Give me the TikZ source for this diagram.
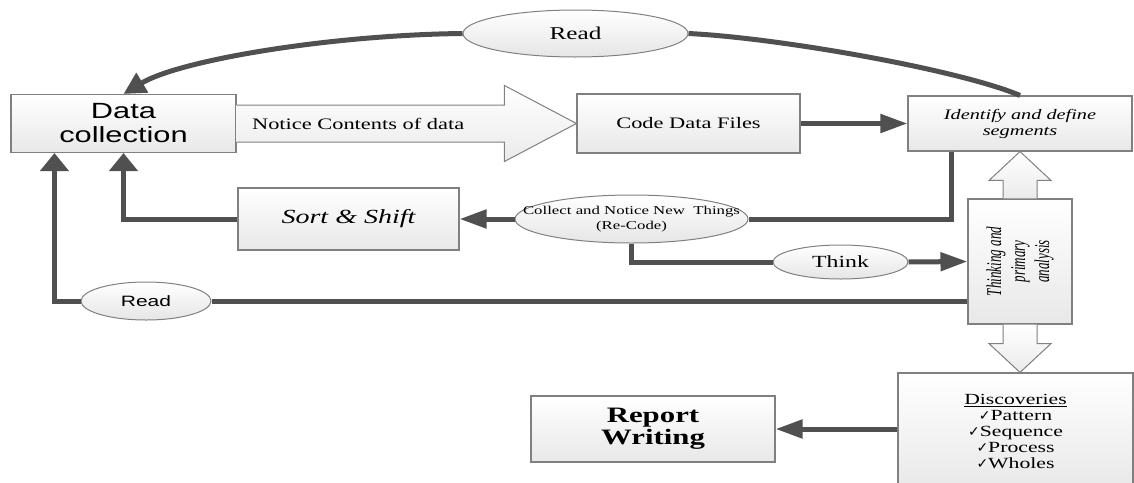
\documentclass[tikz,border=0pt]{standalone}
\usepackage{fontspec}
\setmainfont{Liberation Serif}[FakeStretch=1.4]
\newfontfamily\sansw{Liberation Sans}[FakeStretch=1.4]
\newfontfamily\serifc{Liberation Serif}[FakeStretch=0.62]
\newfontfamily\checkf{DejaVu Sans}
\usetikzlibrary{arrows.meta,shapes.geometric,calc}
\definecolor{linkgray}{HTML}{505050}
\definecolor{bord}{HTML}{808080}
\newcommand{\ckm}{{\checkf\fontsize{14}{16}\selectfont ✓}}
\tikzset{
 box/.style={draw=bord, line width=1.1pt, top color=white, bottom color=black!9, inner sep=0pt, align=center, text=black},
 oval/.style={ellipse, draw=bord, line width=1pt, top color=white, bottom color=black!10, inner sep=0pt, align=center},
 link/.style={draw=linkgray, line width=5pt},
 harr/.style={-{Triangle[length=27pt,width=18pt]}},
 varr/.style={-{Triangle[length=18pt,width=28pt]}},
 carr/.style={-{Triangle[length=22pt,width=22pt]}},
 block/.style={draw=bord, line width=1pt, top color=white, bottom color=black!8},
}
\begin{document}
\begin{tikzpicture}[x=1pt,y=-1pt]
\useasboundingbox (0,0) rectangle (1134,482);
\clip (0,0) rectangle (1134,482);
% nodes
\node[box, minimum width=225, minimum height=58, font={\sansw\fontsize{22}{24}\selectfont}] (dc) at (123.5,123.5) {Data\\collection};
\node[box, minimum width=223, minimum height=59, font={\fontsize{16}{19}\selectfont}] (code) at (688.5,123.5) {Code Data Files};
\node[box, minimum width=224, minimum height=55, font={\itshape\fontsize{14.5}{16}\selectfont}] (ident) at (1020,123.5) {Identify and define\\segments};
\node[box, minimum width=221, minimum height=62, font={\itshape\fontsize{20}{22}\selectfont}] (sort) at (348.5,219) {Sort \& Shift};
\node[oval, minimum width=233, minimum height=48, label={[font={\fontsize{12}{15}\selectfont}, align=center]center:{Collect and Notice New\ \ Things\\(Re-Code)}}] (collect) at (631.5,219) {};
\node[oval, minimum width=135, minimum height=34, font={\fontsize{17}{19}\selectfont}] (think) at (840.5,262) {Think};
\node[box, minimum width=104, minimum height=125] (tpa) at (1020,261.5) {};
\node[rotate=90, font={\serifc\itshape\fontsize{21}{24}\selectfont}, align=center] (tpatext) at (tpa.center) {Thinking and\\primary\\analysis};
\node[oval, minimum width=225, minimum height=47, font={\fontsize{18}{20}\selectfont}] (read1) at (575.5,33.5) {Read};
\node[oval, minimum width=130, minimum height=38, font={\sansw\fontsize{15}{17}\selectfont}] (read2) at (146,301) {Read};
\node[box, minimum width=235, minimum height=117, font={\fontsize{15.5}{16}\selectfont}] (disc) at (1015.5,431.5) {\underline{Discoveries}\\\ckm Pattern\\\ckm Sequence\\\ckm Process\\\ckm Wholes};
\node[box, minimum width=244, minimum height=66, font={\bfseries\fontsize{22}{22}\selectfont}] (report) at (653,429) {Report\\Writing};
% block arrows
\draw[block] ($(dc.east)+(0,-18.5)$) -- ($(code.west)+(-72,-18.5)$) -- ($(code.west)+(-72,-38)$) -- (code.west) -- ($(code.west)+(-72,38)$) -- ($(code.west)+(-72,18.5)$) -- ($(dc.east)+(0,18.5)$);
\node[anchor=west, font={\fontsize{16}{18}\selectfont}] (notice) at ($(dc.east)+(12,0)$) {Notice Contents of data};
\draw[block] ($(tpa.north)+(-17,0)$) -- ($(tpa.north)+(-17,-18)$) -- ($(tpa.north)+(-31,-18)$) -- (ident.south) -- ($(tpa.north)+(31,-18)$) -- ($(tpa.north)+(17,-18)$) -- ($(tpa.north)+(17,0)$);
\draw[block] ($(tpa.south)+(-17,0)$) -- ($(tpa.south)+(-17,19)$) -- ($(tpa.south)+(-31,19)$) -- (tpa.south |- disc.north) -- ($(tpa.south)+(31,19)$) -- ($(tpa.south)+(17,19)$) -- ($(tpa.south)+(17,0)$);
% connectors
\draw[link,harr] (code.east) -- (ident.west);
\draw[link] ($(ident.south west)+(44,0)$) |- (collect.east);
\draw[link,harr] (collect.west) -- (sort.east);
\draw[link,varr] (sort.west) -| (dc.south);
\draw[link] (collect.south) |- (think.west);
\draw[link,harr] (think.east) -- (tpa.west);
\draw[link] (tpa.west |- read2.east) -- (read2.east);
\draw[link,varr] (read2.west) -| ($(dc.south west)+(44,0)$);
\draw[link] (read1.east) .. controls (780,38) and (960,70) .. (ident.north);
\draw[link,carr] (read1.west) .. controls (330,35) and (180,60) .. (dc.north);
\draw[link,harr] (report.east -| disc.west) -- (report.east);
\end{tikzpicture}
\end{document}
